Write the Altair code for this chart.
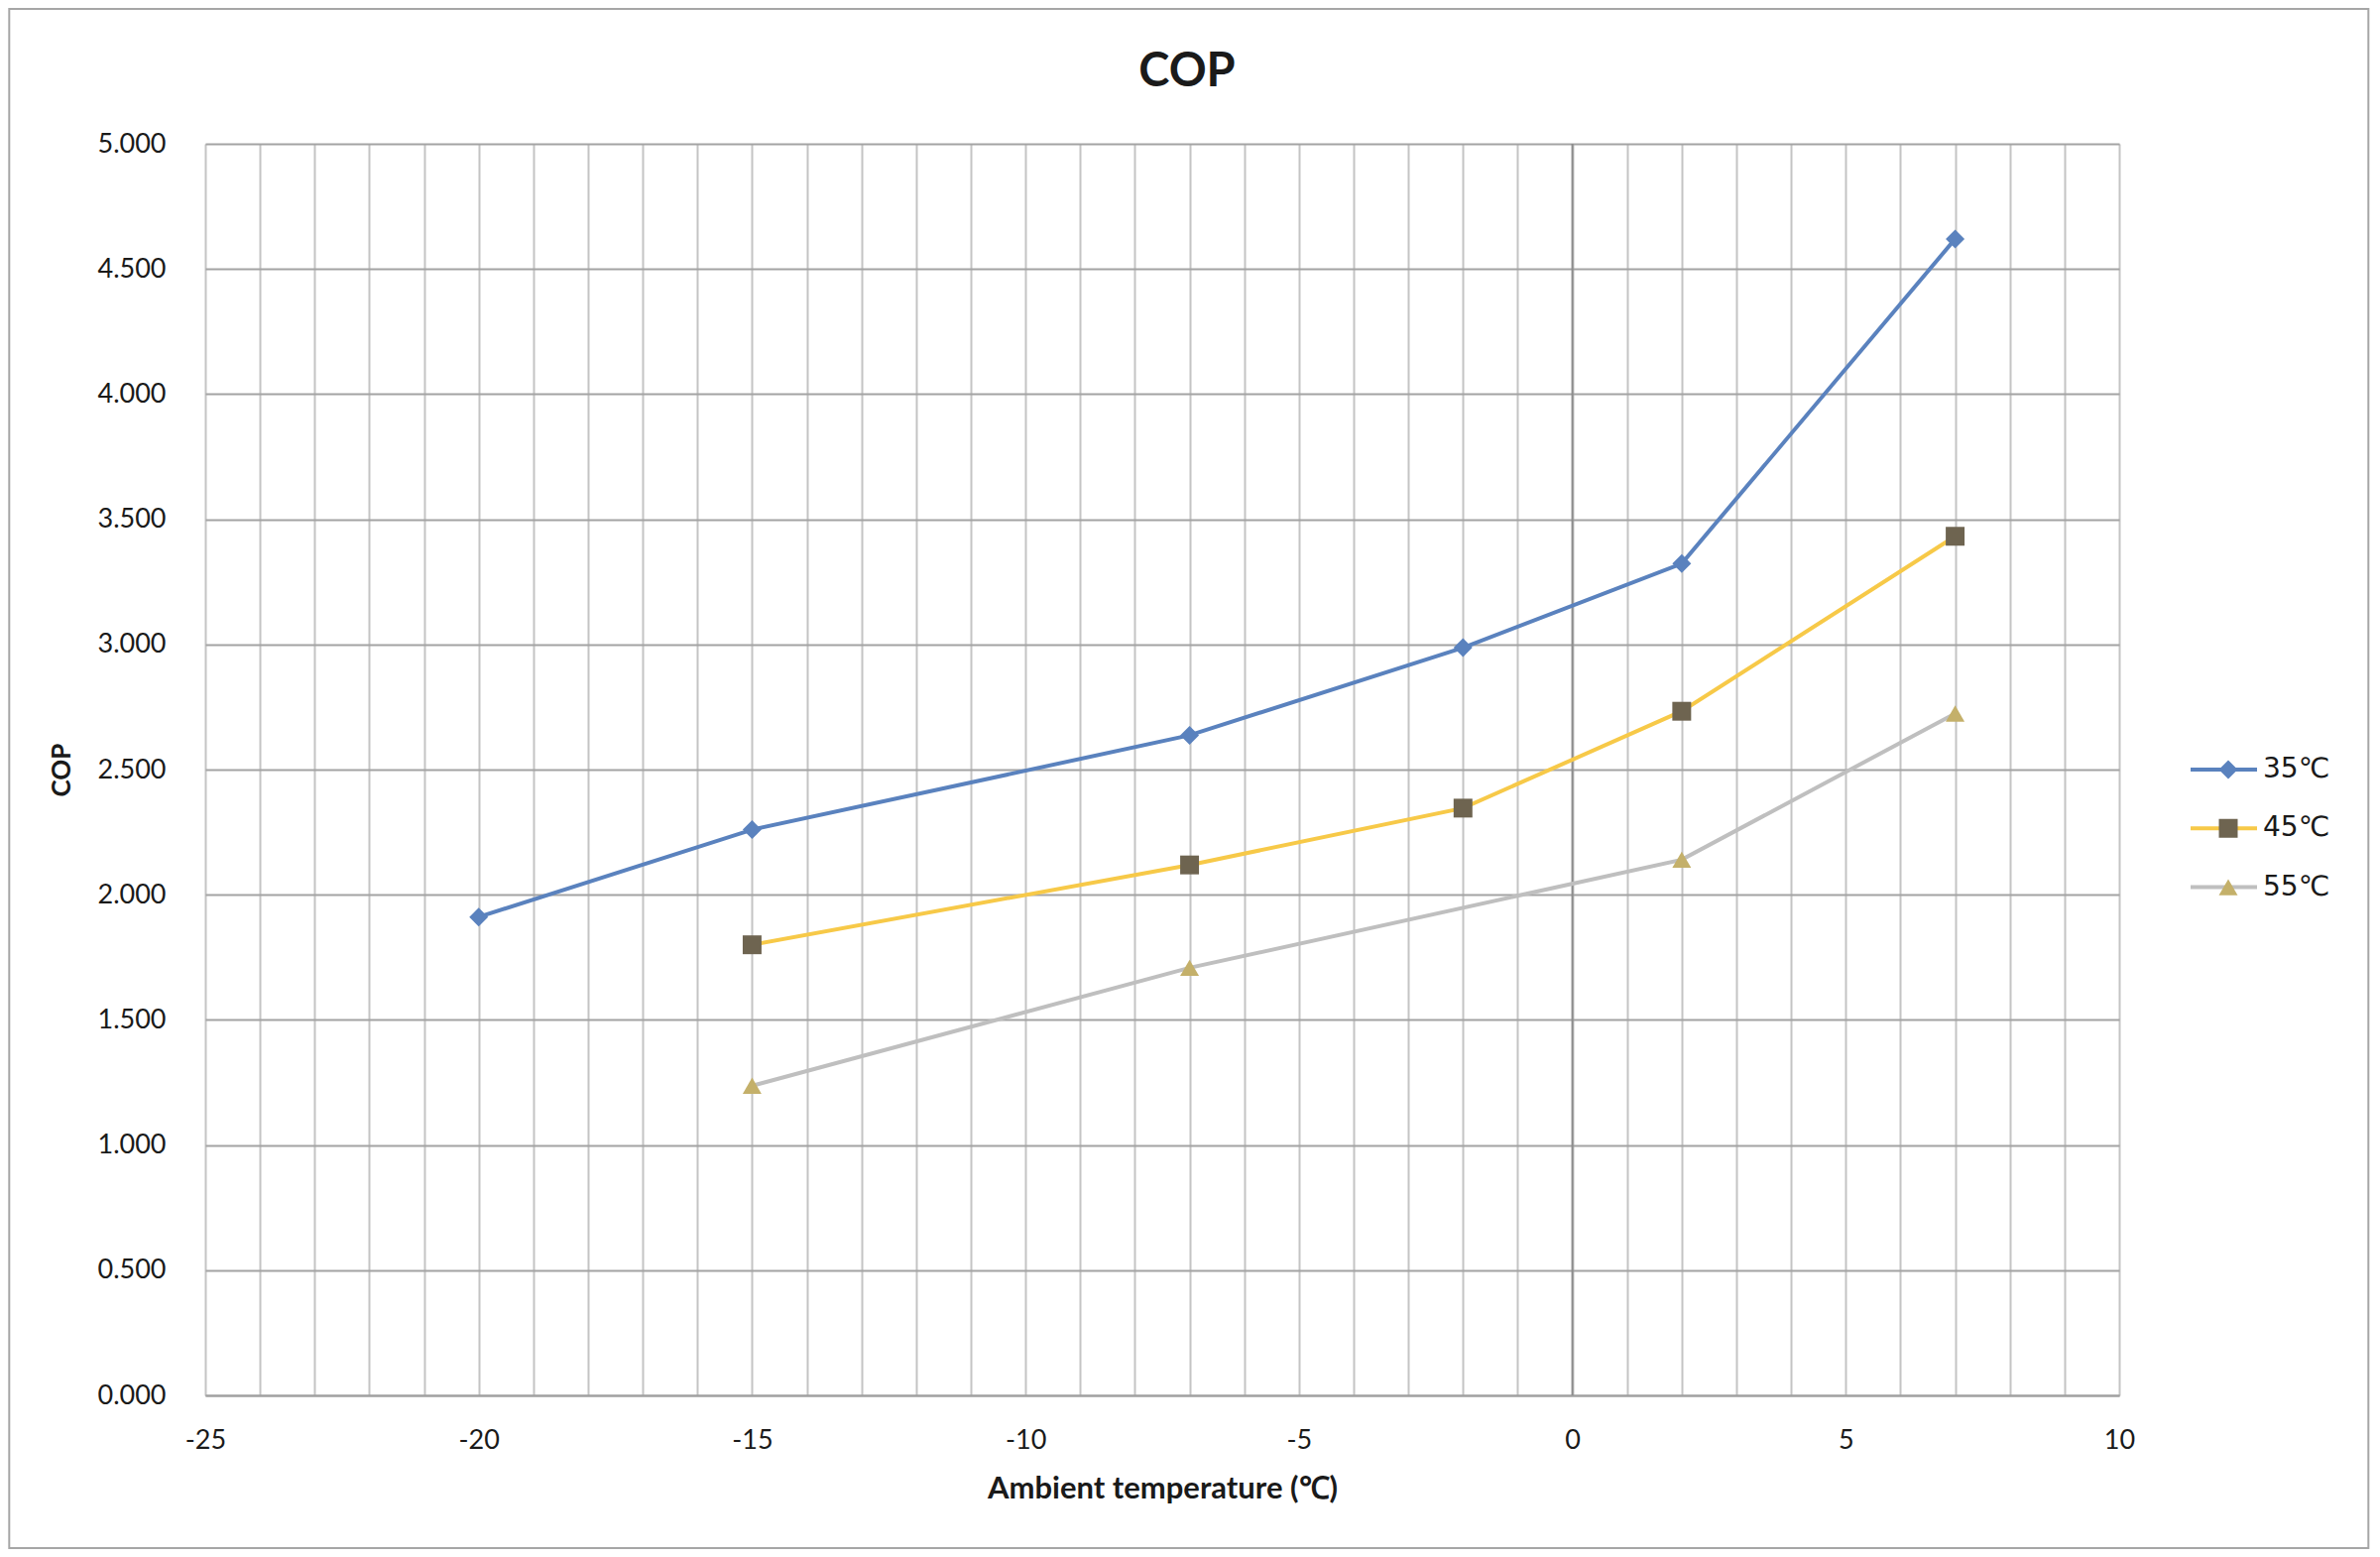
import altair as alt
import pandas as pd

# ---- data ----
series_names = ["35℃", "45℃", "55℃"]
temps_35 = [-20, -15, -7, -2, 2, 7]
cop_35 = [1.911, 2.260, 2.637, 2.987, 3.323, 4.620]
temps_45 = [-15, -7, -2, 2, 7]
cop_45 = [1.800, 2.119, 2.346, 2.733, 3.432]
temps_55 = [-15, -7, 2, 7]
cop_55 = [1.237, 1.708, 2.140, 2.724]

x_ticks = list(range(-25, 11))
y_ticks = [i * 0.5 for i in range(11)]
zero_line = [0]

line_colors = ["#5A82BE", "#F7C948", "#BFBFBF"]
marker_fills = ["#5A82BE", "#6E6450", "#C4B06A"]
marker_shapes = ["diamond", "square", "triangle-up"]

rows = []
for name, xs, ys in zip(series_names, [temps_35, temps_45, temps_55], [cop_35, cop_45, cop_55]):
    for xv, yv in zip(xs, ys):
        rows.append({"temp": xv, "cop": yv, "series": name, "series_m": name})
df = pd.DataFrame(rows)

W, H = 1930, 1262

x_scale = alt.Scale(domain=[-25, 10], nice=False, zero=False)
y_scale = alt.Scale(domain=[0, 5], nice=False)

x_axis = alt.Axis(
    values=x_ticks,
    labelExpr="datum.value % 5 === 0 ? '' + datum.value : ''",
    grid=True, gridColor="#C4C4C4", gridWidth=2,
    ticks=False, tickSize=0,
    domain=True, domainColor="#A0A0A0", domainWidth=2,
    labelPadding=53, labelBaseline="alphabetic", labelFlush=False,
    labelFont="Lato", labelFontSize=27, labelColor="#1A1A1A",
    title="Ambient temperature (℃)",
    titleFont="Lato", titleFontSize=31, titleFontWeight="bold", titleColor="#1A1A1A",
    titleBaseline="alphabetic", titleY=103,
)
y_axis = alt.Axis(
    values=y_ticks, format=".3f",
    grid=True, gridColor="#A3A3A3", gridWidth=2,
    ticks=False, tickSize=0, domain=False, labelFlush=False,
    labelPadding=40, labelFont="Lato", labelFontSize=27, labelColor="#1A1A1A",
    title="COP",
    titleFont="Lato", titleFontSize=26, titleFontWeight="bold", titleColor="#1A1A1A",
    titleBaseline="alphabetic", titleX=-137, titleY=H / 2,
)

legend_x = 2000
legend_y = 616
legend_font = "DejaVu Sans"
legend_font_size = 28
line_legend = alt.Legend(
    title=None, orient="none", legendX=legend_x, legendY=legend_y,
    symbolType="stroke", symbolSize=4489, symbolStrokeWidth=4,
    labelFont=legend_font, labelFontSize=legend_font_size, labelColor="#1A1A1A",
    labelOffset=4, clipHeight=30, rowPadding=29.3, padding=0,
)
marker_legend = alt.Legend(
    title=None, orient="none", legendX=legend_x + 35.5 - 9.5, legendY=legend_y,
    symbolSize=360, symbolStrokeWidth=0,
    labelExpr="' '",
    labelFont=legend_font, labelFontSize=legend_font_size, labelOpacity=0,
    labelOffset=4, clipHeight=30, rowPadding=29.3, padding=0,
)

base = alt.Chart(df)

border = alt.Chart(pd.DataFrame({"b": [0]})).mark_rect(
    filled=False, stroke="#A6A6A6", strokeWidth=2
).encode(
    x=alt.value(-197.7), x2=alt.value(2181.3), y=alt.value(-136), y2=alt.value(1416)
)

zero_rule = alt.Chart(pd.DataFrame({"z": zero_line})).mark_rule(
    color="#8C8C8C", strokeWidth=2
).encode(x=alt.X("z:Q", scale=x_scale, axis=x_axis))

lines = base.mark_line(strokeWidth=4).encode(
    x=alt.X("temp:Q", scale=x_scale, axis=x_axis),
    y=alt.Y("cop:Q", scale=y_scale, axis=y_axis),
    color=alt.Color("series:N", scale=alt.Scale(domain=series_names, range=line_colors), legend=line_legend),
    detail="series:N",
)

points = base.mark_point(filled=True, size=360, opacity=1, strokeWidth=0).encode(
    x=alt.X("temp:Q", scale=x_scale, axis=x_axis),
    y=alt.Y("cop:Q", scale=y_scale, axis=y_axis),
    fill=alt.Fill("series_m:N", scale=alt.Scale(range=marker_fills), legend=marker_legend),
    shape=alt.Shape("series_m:N", scale=alt.Scale(range=marker_shapes), legend=marker_legend),
)

chart = alt.layer(border, zero_rule, lines, points).properties(
    width=W, height=H,
    autosize=alt.AutoSizeParams(type="none"),
    padding={"left": 199, "top": 137, "right": 255, "bottom": 155},
    title=alt.Title("COP", font="Lato", fontSize=47, fontWeight="bold", color="#1A1A1A",
                    anchor="middle", dx=25, offset=-126, baseline="alphabetic"),
).configure_view(strokeWidth=0).configure(background="white")

chart.save("out.html", embed_options={"renderer": "svg", "actions": False})
